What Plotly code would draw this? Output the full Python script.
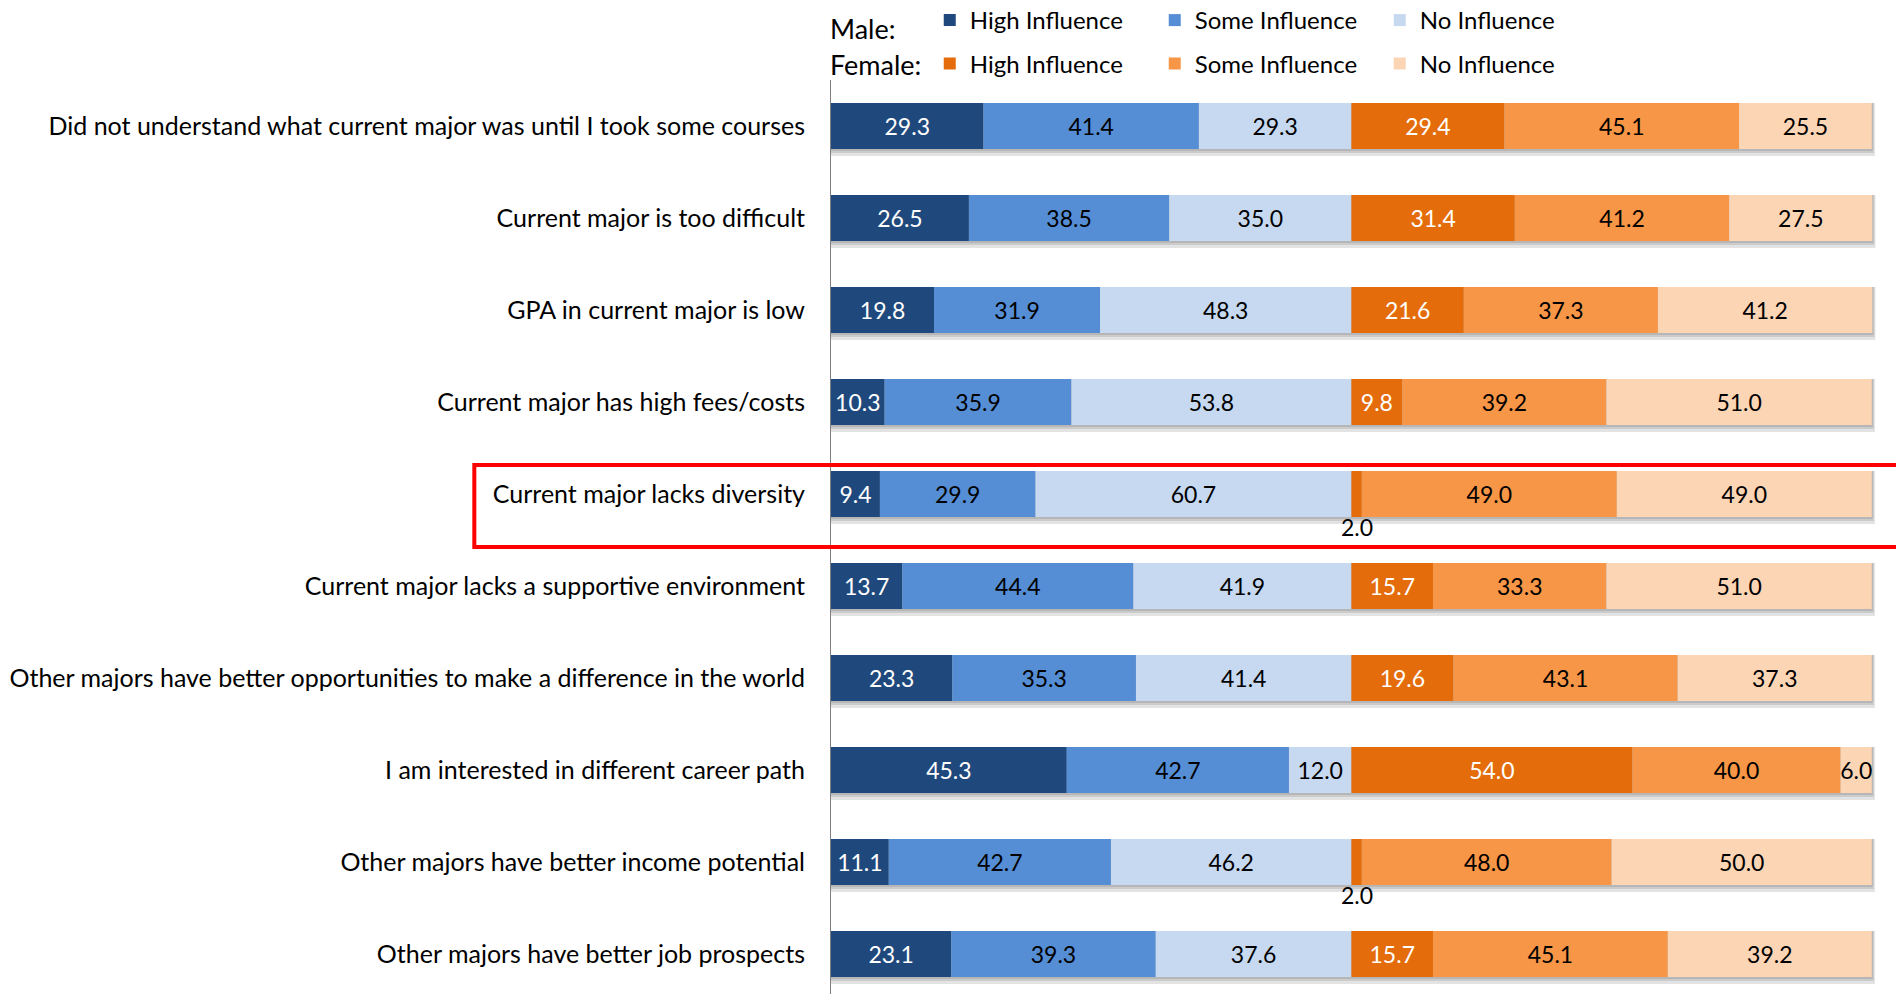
import numpy as np
import plotly.graph_objects as go

categories = [
    "Did not understand what current major was until I took some courses",
    "Current major is too difficult",
    "GPA in current major is low",
    "Current major has high fees/costs",
    "Current major lacks diversity",
    "Current major lacks a supportive environment",
    "Other majors have better opportunities to make a difference in the world",
    "I am interested in different career path",
    "Other majors have better income potential",
    "Other majors have better job prospects",
]
male_high = [29.3, 26.5, 19.8, 10.3, 9.4, 13.7, 23.3, 45.3, 11.1, 23.1]
male_some = [41.4, 38.5, 31.9, 35.9, 29.9, 44.4, 35.3, 42.7, 42.7, 39.3]
male_no = [29.3, 35.0, 48.3, 53.8, 60.7, 41.9, 41.4, 12.0, 46.2, 37.6]
female_high = [29.4, 31.4, 21.6, 9.8, 2.0, 15.7, 19.6, 54.0, 2.0, 15.7]
female_some = [45.1, 41.2, 37.3, 39.2, 49.0, 33.3, 43.1, 40.0, 48.0, 45.1]
female_no = [25.5, 27.5, 41.2, 51.0, 49.0, 51.0, 37.3, 6.0, 50.0, 39.2]
series_names = ["High Influence", "Some Influence", "No Influence"]
highlight = "Current major lacks diversity"

FONT = "Lato, Calibri, Carlito, sans-serif"
VAL_SIZE = 23
male_colors = ["#1F497D", "#558ED5", "#C6D9F1"]
female_colors = ["#E46C0A", "#F79646", "#FCD5B5"]
text_colors = ["white", "black", "black"]

fig = go.Figure()

# soft drop shadow under each row of bars
totals = (np.array(male_high) + np.array(male_some) + np.array(male_no)
          + np.array(female_high) + np.array(female_some) + np.array(female_no))
for k, ext in enumerate([2, 4, 7]):
    fig.add_trace(go.Bar(
        y=categories, x=totals + 0.2 * (k + 1), base=0, orientation="h",
        width=0.5 + ext / 92.0, offset=-0.25,
        marker=dict(color="rgba(60,60,60,0.14)", line=dict(width=0)),
        showlegend=False, hoverinfo="skip",
    ))


def add_group(values_list, colors, start, legend_id):
    base = np.full(len(categories), float(start))
    for name, vals, col, tcol in zip(series_names, values_list, colors, text_colors):
        vals = np.array(vals, dtype=float)
        texts = [f"{v:.1f}" if v >= 3 else "" for v in vals]
        fig.add_trace(go.Bar(
            y=categories, x=vals, base=base.copy(), orientation="h",
            name=name, legend=legend_id,
            marker=dict(color=col, line=dict(width=0)),
            text=texts, textposition="inside", insidetextanchor="middle",
            textangle=0,
            textfont=dict(family=FONT, size=VAL_SIZE, color=tcol),
            width=0.5, offset=-0.25,
        ))
        for c, v, b in zip(categories, vals, base):
            if v < 3:
                fig.add_annotation(x=b + v / 2, y=c, xref="x", yref="y",
                                   text=f"{v:.1f}", showarrow=False, yshift=-33,
                                   font=dict(family=FONT, size=VAL_SIZE, color="black"))
        base = base + vals


add_group([male_high, male_some, male_no], male_colors, 0, "legend")
add_group([female_high, female_some, female_no], female_colors, 100, "legend2")

n = len(categories)
hi = categories.index(highlight)
fig.add_shape(type="rect", xref="paper", yref="y",
              x0=-0.341, x1=1.05, y0=hi - 0.315, y1=hi + 0.576,
              line=dict(color="#FF0000", width=4), fillcolor="rgba(0,0,0,0)")

TOP = 80
PLOT_H = 994 - TOP
fig.add_annotation(xref="paper", yref="paper", x=-0.003, y=1 + (TOP - 29) / PLOT_H,
                   xanchor="left", yanchor="middle", text="Male:", showarrow=False,
                   font=dict(family=FONT, size=27, color="black"))
fig.add_annotation(xref="paper", yref="paper", x=-0.003, y=1 + (TOP - 64) / PLOT_H,
                   xanchor="left", yanchor="middle", text="Female:", showarrow=False,
                   font=dict(family=FONT, size=27, color="black"))

legend_common = dict(orientation="h", xanchor="left", yanchor="middle",
                     font=dict(family=FONT, size=24, color="black"),
                     entrywidth=180, entrywidthmode="pixels",
                     bgcolor="rgba(0,0,0,0)", traceorder="normal")

plot_w = 1041 * 201 / 200.0
fig.update_layout(
    width=1896, height=994,
    margin=dict(l=831, r=1896 - 831 - plot_w, t=TOP, b=0, autoexpand=False),
    paper_bgcolor="white", plot_bgcolor="white",
    barmode="overlay",
    uniformtext=dict(minsize=VAL_SIZE, mode="show"),
    showlegend=True,
    legend=dict(x=0.0944, y=1 + (TOP - 20.5) / PLOT_H, **legend_common),
    legend2=dict(x=0.0944, y=1 + (TOP - 64) / PLOT_H, **legend_common),
    xaxis=dict(range=[0, 201], visible=False, fixedrange=True),
    yaxis=dict(type="category", categoryorder="array", categoryarray=categories,
               range=[n - 0.565, -0.5], showline=True, linecolor="#808080", linewidth=1,
               ticks="", showgrid=False, zeroline=False, ticklabelstandoff=20,
               tickfont=dict(family=FONT, size=25, color="black")),
    font=dict(family=FONT),
)

fig.write_html("out.html")
